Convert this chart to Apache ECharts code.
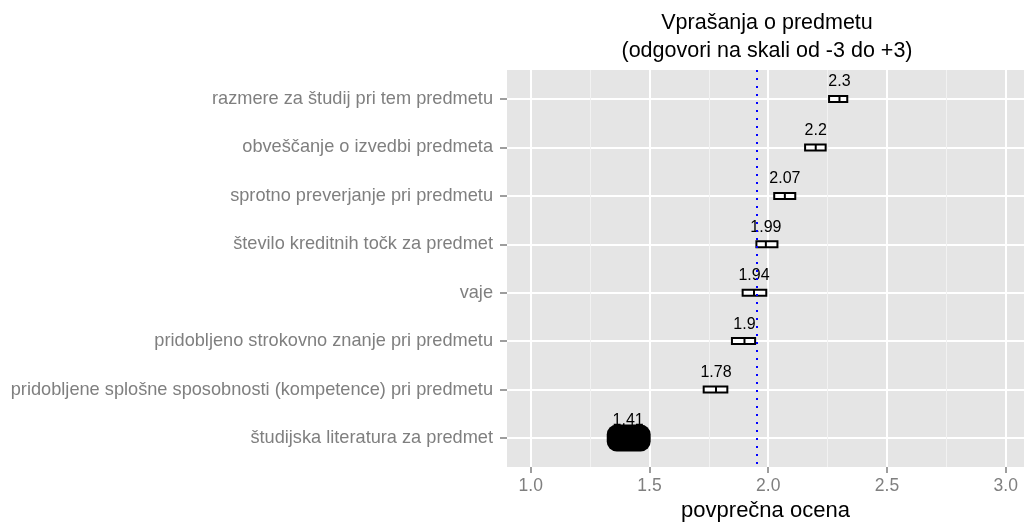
<!DOCTYPE html>
<html>
<head>
<meta charset="utf-8">
<script src="https://cdn.jsdelivr.net/npm/echarts@6/dist/echarts.min.js"></script>
<style>
  html, body { margin: 0; padding: 0; background: #fff; }
  #chart { width: 1024px; height: 522px; }
</style>
</head>
<body>
<div id="chart"></div>
<script>
// vprašanja, od zgoraj navzdol
const questions = [
  'razmere za študij pri tem predmetu',
  'obveščanje o izvedbi predmeta',
  'sprotno preverjanje pri predmetu',
  'število kreditnih točk za predmet',
  'vaje',
  'pridobljeno strokovno znanje pri predmetu',
  'pridobljene splošne sposobnosti (kompetence) pri predmetu',
  'študijska literatura za predmet'
];
const means = [2.3, 2.2, 2.07, 1.99, 1.94, 1.9, 1.78, 1.41];
const lower = [2.252, 2.151, 2.021, 1.946, 1.888, 1.843, 1.724, 1.32];
const upper = [2.337, 2.246, 2.118, 2.043, 1.996, 1.949, 1.832, 1.505];
const overallMean = 1.95;
const xTicks = [1.0, 1.5, 2.0, 2.5, 3.0];
const xMinorTicks = [1.25, 1.75, 2.25, 2.75];
const filledQuestion = 'študijska literatura za predmet';

const rows = questions.map((q, i) => i + 1);
const font = 'Liberation Sans, Arial, sans-serif';

const myChart = echarts.init(document.getElementById('chart'));

const option = {
  animation: false,
  backgroundColor: '#fff',
  textStyle: { fontFamily: font },
  title: {
    text: 'Vprašanja o predmetu\n(odgovori na skali od -3 do +3)',
    left: 767,
    top: 9,
    padding: 0,
    textAlign: 'center',
    textStyle: { fontSize: 21.5, fontWeight: 'normal', color: '#000', lineHeight: 28, fontFamily: font }
  },
  grid: {
    left: 507, top: 70, right: 0, bottom: 55,
    outerBoundsMode: 'none',
    containLabel: false,
    show: true, backgroundColor: '#e5e5e5', borderWidth: 0
  },
  xAxis: [
    {
      type: 'value',
      min: 0.9,
      max: 3.077,
      name: 'povprečna ocena',
      nameLocation: 'middle',
      nameGap: 32,
      nameTextStyle: { fontSize: 22, color: '#000', fontFamily: font },
      axisLine: { show: false },
      axisTick: { show: true, length: 6, customValues: xTicks, lineStyle: { color: '#7f7f7f', width: 1.5 } },
      axisLabel: {
        customValues: xTicks, margin: 10, fontSize: 17.5, color: '#7f7f7f', fontFamily: font,
        formatter: v => v.toFixed(1)
      },
      splitLine: { show: true, lineStyle: { color: '#fff', width: 2 } }
    },
    {
      type: 'value',
      min: 0.9,
      max: 3.077,
      position: 'bottom',
      axisLine: { show: false },
      axisTick: { show: false, customValues: xMinorTicks },
      axisLabel: { show: false, customValues: xMinorTicks },
      splitLine: { show: true, lineStyle: { color: '#f2f2f2', width: 1 } }
    }
  ],
  yAxis: {
    type: 'value',
    inverse: true,
    min: 0.4,
    max: 8.6,
    axisLine: { show: false },
    axisTick: { show: true, length: 7, customValues: rows, lineStyle: { color: '#7f7f7f', width: 1.5 } },
    axisLabel: {
      customValues: rows, margin: 14, fontSize: 18.2, color: '#7f7f7f', fontFamily: font,
      formatter: v => questions[Math.round(v) - 1] || ''
    },
    splitLine: { show: true, lineStyle: { color: '#fff', width: 2 } }
  },
  series: [
    {
      type: 'custom',
      xAxisIndex: 0,
      yAxisIndex: 0,
      data: questions.map((q, i) => [lower[i], upper[i], means[i], i + 1]),
      encode: { x: [0, 1, 2], y: 3 },
      renderItem: (params, api) => {
        const lo = api.coord([api.value(0), api.value(3)]);
        const hi = api.coord([api.value(1), api.value(3)]);
        const mid = api.coord([api.value(2), api.value(3)]);
        const filled = questions[params.dataIndex] === filledQuestion;
        const children = [
          {
            type: 'text',
            style: {
              text: String(api.value(2)),
              x: mid[0], y: mid[1] - 17,
              align: 'center', verticalAlign: 'middle',
              fontSize: 16, fontFamily: font, fill: '#000'
            }
          }
        ];
        if (filled) {
          children.push({
            type: 'rect',
            shape: { x: lo[0], y: lo[1] - 13.5, width: hi[0] - lo[0], height: 27, r: 10 },
            style: { fill: '#000' }
          });
        } else {
          children.push({
            type: 'rect',
            shape: { x: lo[0] + 1, y: lo[1] - 3, width: hi[0] - lo[0] - 2, height: 6 },
            style: { fill: '#fff', stroke: '#000', lineWidth: 2 }
          });
          children.push({
            type: 'line',
            shape: { x1: mid[0], y1: mid[1] - 3, x2: mid[0], y2: mid[1] + 3 },
            style: { stroke: '#000', lineWidth: 2 }
          });
        }
        return { type: 'group', children };
      },
      markLine: {
        silent: true,
        symbol: 'none',
        label: { show: false },
        lineStyle: { color: '#0000ff', type: [2, 6], width: 2 },
        data: [{ xAxis: overallMean }]
      },
      z: 3
    }
  ]
};

myChart.setOption(option);
</script>
</body>
</html>
